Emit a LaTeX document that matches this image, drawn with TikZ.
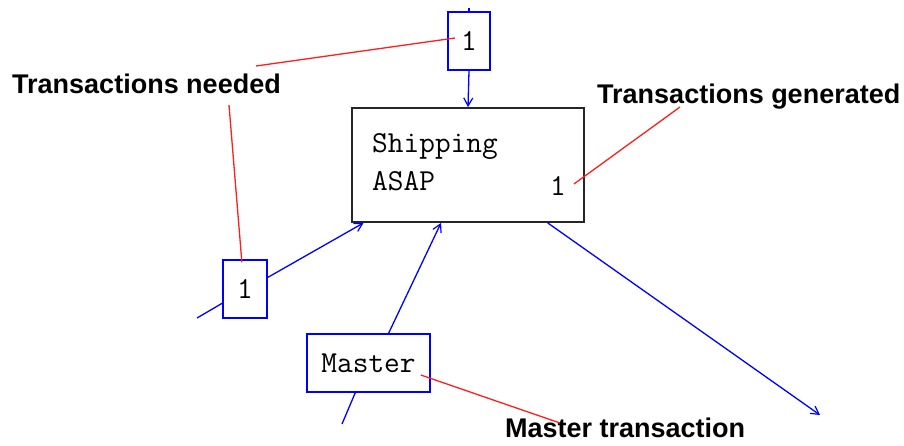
\documentclass[tikz,border=0pt]{standalone}
\usepackage{fontspec}
\newfontfamily\labfont{Liberation Sans}
\usetikzlibrary{arrows.meta}
\definecolor{lnblue}{RGB}{0,0,255}
\definecolor{lnred}{RGB}{255,30,30}
\begin{document}
\begin{tikzpicture}[x=1pt,y=-1pt,
  bluebox/.style={draw=lnblue,line width=1.6pt,fill=white,inner sep=0pt,font=\ttfamily\fontsize{30.5}{34}\selectfont},
  mainbox/.style={draw=black!85,line width=1.8pt,fill=white,inner sep=0pt},
  monotext/.style={inner sep=0pt,anchor=base west,font=\ttfamily\fontsize{30.5}{34}\selectfont},
  labeltext/.style={inner sep=0pt,anchor=base west,font=\labfont\bfseries\fontsize{27}{31}\selectfont},
  flow/.style={draw=lnblue,line width=1.3pt,-{Straight Barb[length=8pt,width=9pt,line width=1.2pt]}},
  plainflow/.style={draw=lnblue,line width=1.3pt},
  callout/.style={draw=lnred,line width=1.3pt}]
\fill[white] (0,0) rectangle (904,445);
\useasboundingbox (0,0) rectangle (904,445);

% boxes
\node[mainbox,minimum width=232pt,minimum height=114pt] (main) at (468,165) {};
\node[bluebox,minimum width=42.5pt,minimum height=58.5pt] (top) at (469,41) {1};
\node[bluebox,minimum width=44pt,minimum height=58pt] (left) at (245,289) {1};
\node[bluebox,minimum width=123pt,minimum height=58pt] (master) at (368.5,363) {Master};

% text inside the main box
\node[monotext] (ship) at (372,152) {Shipping};
\node[monotext] (asap) at (372,190) {ASAP};
\node[monotext] (gen) at (550,195) {1};

% labels
\node[labeltext] (lneed) at (12,93) {Transactions needed};
\node[labeltext] (lgen) at (597,103) {Transactions generated};
\node[labeltext] (lmaster) at (505,437) {Master transaction};

% free ends
\coordinate (topin) at (469,8);
\coordinate (leftin) at (197,318);
\coordinate (masterin) at (342,424);
\coordinate (out) at (820,415);
\coordinate (needA) at (229,105);
\coordinate (needB) at (256,66);
\coordinate (genA) at (680,107);
\coordinate (mastA) at (560,423);

% blue connectors
\draw[plainflow] (topin) -- (top.north);
\draw[flow] (top.south) -- (main.north);
\draw[plainflow] (leftin) -- (left.212.5);
\draw[flow] (left.27) -- (main.209);
\draw[plainflow] (masterin) -- (master.246.7);
\draw[flow] (master.56) -- (main.245.5);
\draw[flow] (main.324.5) -- (out);

% red callouts
\draw[callout] (needA) -- ([yshift=-3pt]left.96);
\draw[callout] (needB) -- ([xshift=8pt,yshift=3pt]top.west);
\draw[callout] (genA) -- ([xshift=-11pt,yshift=-19pt]main.east);
\draw[callout] (mastA) -- ([xshift=-10pt,yshift=-12pt]master.east);
\end{tikzpicture}
\end{document}
